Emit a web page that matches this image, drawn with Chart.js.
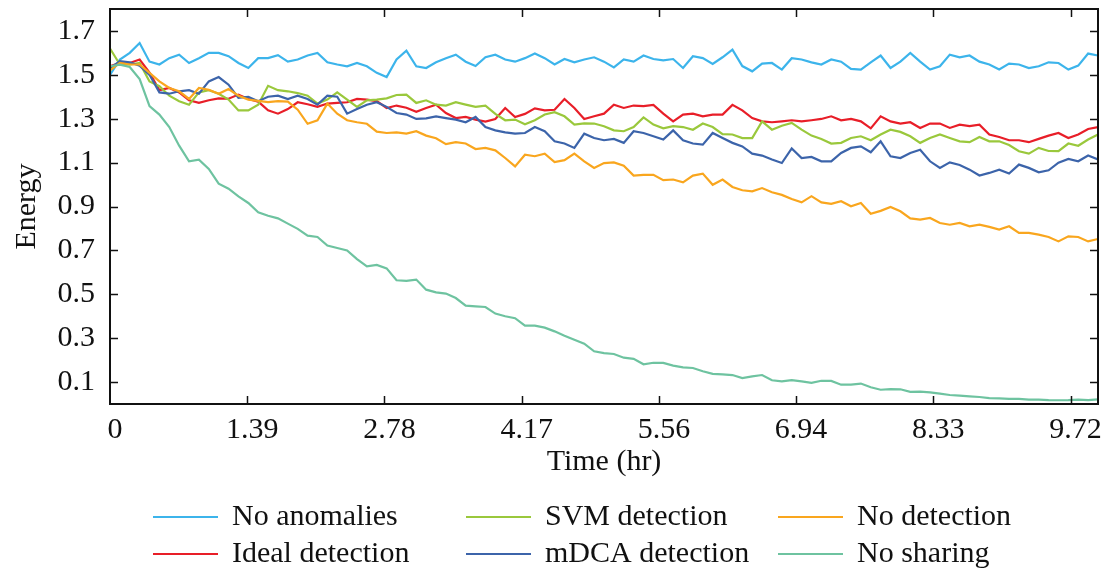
<!DOCTYPE html>
<html>
<head>
<meta charset="utf-8">
<script src="https://cdn.jsdelivr.net/npm/chart.js@4.4.1/dist/chart.umd.min.js"></script>
<style>
  html, body { margin: 0; padding: 0; background: #fff; }
  #wrap { position: relative; width: 1112px; height: 571px; }
</style>
</head>
<body>
<div id="wrap"><canvas id="energyChart" width="1112" height="571"></canvas></div>
<script>
// sample times (hr)
const hours = [
  0.0, 0.1, 0.2, 0.3, 0.4, 0.5, 0.6, 0.7, 0.8, 0.9,
  1.0, 1.1, 1.2, 1.3, 1.4, 1.5, 1.6, 1.7, 1.8, 1.9,
  2.0, 2.1, 2.2, 2.3, 2.4, 2.5, 2.6, 2.7, 2.8, 2.9,
  3.0, 3.1, 3.2, 3.3, 3.4, 3.5, 3.6, 3.7, 3.8, 3.9,
  4.0, 4.1, 4.2, 4.3, 4.4, 4.5, 4.6, 4.7, 4.8, 4.9,
  5.0, 5.1, 5.2, 5.3, 5.4, 5.5, 5.6, 5.7, 5.8, 5.9,
  6.0, 6.1, 6.2, 6.3, 6.4, 6.5, 6.6, 6.7, 6.8, 6.9,
  7.0, 7.1, 7.2, 7.3, 7.4, 7.5, 7.6, 7.7, 7.8, 7.9,
  8.0, 8.1, 8.2, 8.3, 8.4, 8.5, 8.6, 8.7, 8.8, 8.9,
  9.0, 9.1, 9.2, 9.3, 9.4, 9.5, 9.6, 9.7, 9.8, 9.9, 10.0
];

const noAnomalies = [
  1.50, 1.57, 1.60, 1.645, 1.56, 1.547, 1.576, 1.592, 1.554, 1.576,
  1.60, 1.60, 1.585, 1.554, 1.531, 1.576, 1.576, 1.59, 1.56, 1.57,
  1.588, 1.60, 1.557, 1.547, 1.539, 1.554, 1.539, 1.509, 1.49, 1.57,
  1.61, 1.539, 1.531, 1.557, 1.576, 1.592, 1.56, 1.54, 1.58, 1.592,
  1.57, 1.56, 1.576, 1.597, 1.576, 1.547, 1.572, 1.557, 1.57, 1.58,
  1.56, 1.534, 1.57, 1.56, 1.588, 1.572, 1.566, 1.572, 1.531, 1.585,
  1.576, 1.55, 1.58, 1.615, 1.54, 1.516, 1.551, 1.554, 1.524, 1.576,
  1.57, 1.557, 1.547, 1.57, 1.56, 1.527, 1.524, 1.557, 1.588, 1.531,
  1.56, 1.60, 1.56, 1.524, 1.539, 1.592, 1.58, 1.588, 1.56, 1.547,
  1.524, 1.551, 1.547, 1.531, 1.539, 1.557, 1.554, 1.524, 1.542, 1.597, 1.588
];

const idealDetection = [
  1.54, 1.554, 1.554, 1.57, 1.51, 1.43, 1.44, 1.42, 1.384, 1.372,
  1.384, 1.393, 1.391, 1.41, 1.39, 1.378, 1.338, 1.323, 1.344, 1.375,
  1.366, 1.354, 1.369, 1.372, 1.375, 1.39, 1.387, 1.38, 1.349, 1.36,
  1.35, 1.332, 1.349, 1.364, 1.326, 1.303, 1.308, 1.296, 1.287, 1.299,
  1.349, 1.308, 1.322, 1.347, 1.338, 1.341, 1.39, 1.349, 1.299, 1.311,
  1.323, 1.364, 1.349, 1.36, 1.357, 1.363, 1.323, 1.288, 1.319, 1.323,
  1.311, 1.319, 1.319, 1.363, 1.338, 1.303, 1.288, 1.284, 1.288, 1.293,
  1.288, 1.293, 1.299, 1.311, 1.293, 1.299, 1.288, 1.256, 1.311, 1.288,
  1.278, 1.284, 1.258, 1.278, 1.278, 1.258, 1.273, 1.266, 1.273, 1.228,
  1.217, 1.202, 1.202, 1.193, 1.208, 1.223, 1.235, 1.212, 1.228, 1.253, 1.262
];

const svmDetection = [
  1.62, 1.547, 1.547, 1.554, 1.47, 1.448, 1.405, 1.38, 1.364, 1.42,
  1.43, 1.414, 1.387, 1.338, 1.338, 1.364, 1.45, 1.43, 1.425, 1.417,
  1.405, 1.369, 1.387, 1.42, 1.387, 1.354, 1.384, 1.387, 1.393, 1.408,
  1.41, 1.372, 1.384, 1.364, 1.36, 1.375, 1.364, 1.354, 1.36, 1.322,
  1.293, 1.296, 1.275, 1.293, 1.319, 1.33, 1.311, 1.273, 1.279, 1.278,
  1.266, 1.247, 1.243, 1.262, 1.306, 1.273, 1.256, 1.266, 1.262, 1.25,
  1.278, 1.262, 1.23, 1.228, 1.212, 1.212, 1.288, 1.25, 1.268, 1.281,
  1.25, 1.223, 1.208, 1.187, 1.19, 1.212, 1.22, 1.202, 1.228, 1.25,
  1.24, 1.22, 1.19, 1.212, 1.228, 1.212, 1.197, 1.193, 1.217, 1.197,
  1.197, 1.18, 1.152, 1.141, 1.167, 1.153, 1.152, 1.187, 1.177, 1.205, 1.228
];

const mdcaDetection = [
  1.53, 1.562, 1.557, 1.542, 1.50, 1.42, 1.414, 1.425, 1.43, 1.414,
  1.47, 1.49, 1.455, 1.395, 1.40, 1.38, 1.40, 1.405, 1.39, 1.405,
  1.39, 1.364, 1.405, 1.40, 1.323, 1.344, 1.364, 1.375, 1.354, 1.326,
  1.319, 1.299, 1.302, 1.311, 1.303, 1.296, 1.284, 1.308, 1.262, 1.247,
  1.238, 1.232, 1.235, 1.262, 1.243, 1.197, 1.187, 1.167, 1.232, 1.212,
  1.202, 1.208, 1.19, 1.243, 1.235, 1.22, 1.205, 1.247, 1.202, 1.187,
  1.182, 1.235, 1.212, 1.19, 1.174, 1.141, 1.132, 1.114, 1.098, 1.165,
  1.121, 1.126, 1.106, 1.106, 1.144, 1.167, 1.174, 1.147, 1.197, 1.129,
  1.121, 1.144, 1.159, 1.106, 1.076, 1.101, 1.089, 1.068, 1.041, 1.053,
  1.068, 1.05, 1.091, 1.076, 1.056, 1.065, 1.10, 1.117, 1.106, 1.132, 1.114
];

const noDetection = [
  1.52, 1.554, 1.547, 1.547, 1.509, 1.47, 1.44, 1.425, 1.39, 1.44,
  1.432, 1.414, 1.435, 1.405, 1.387, 1.381, 1.376, 1.38, 1.378, 1.341,
  1.277, 1.293, 1.369, 1.323, 1.293, 1.284, 1.277, 1.241, 1.235, 1.238,
  1.232, 1.243, 1.223, 1.211, 1.184, 1.193, 1.187, 1.162, 1.167, 1.156,
  1.121, 1.083, 1.136, 1.129, 1.141, 1.102, 1.111, 1.141, 1.106, 1.076,
  1.098, 1.101, 1.086, 1.041, 1.044, 1.044, 1.02, 1.023, 1.01, 1.041,
  1.05, 0.999, 1.023, 0.989, 0.974, 0.969, 0.984, 0.965, 0.953, 0.934,
  0.919, 0.947, 0.919, 0.912, 0.924, 0.901, 0.916, 0.867, 0.88, 0.898,
  0.878, 0.846, 0.84, 0.848, 0.825, 0.817, 0.825, 0.81, 0.817, 0.807,
  0.795, 0.81, 0.78, 0.78, 0.772, 0.761, 0.741, 0.764, 0.761, 0.741, 0.752
];

const noSharing = [
  1.539, 1.546, 1.536, 1.481, 1.357, 1.319, 1.262, 1.177, 1.106, 1.113,
  1.071, 1.004, 0.981, 0.946, 0.916, 0.874, 0.858, 0.846, 0.822, 0.798,
  0.767, 0.761, 0.722, 0.711, 0.70, 0.66, 0.627, 0.634, 0.618, 0.564,
  0.561, 0.567, 0.521, 0.509, 0.503, 0.483, 0.448, 0.445, 0.442, 0.412,
  0.40, 0.391, 0.357, 0.357, 0.348, 0.331, 0.311, 0.293, 0.275, 0.24,
  0.232, 0.228, 0.211, 0.206, 0.181, 0.188, 0.187, 0.175, 0.167, 0.164,
  0.149, 0.137, 0.135, 0.132, 0.118, 0.126, 0.132, 0.108, 0.103, 0.109,
  0.103, 0.096, 0.106, 0.105, 0.088, 0.088, 0.093, 0.076, 0.065, 0.068,
  0.067, 0.055, 0.056, 0.053, 0.047, 0.041, 0.038, 0.035, 0.032, 0.027,
  0.026, 0.023, 0.023, 0.02, 0.02, 0.018, 0.017, 0.018, 0.02, 0.018, 0.021
];

const seriesNames = ["No anomalies", "Ideal detection", "SVM detection", "mDCA detection", "No detection", "No sharing"];
const seriesValues = [noAnomalies, idealDetection, svmDetection, mdcaDetection, noDetection, noSharing];
const seriesColors = ["#3cb4eb", "#e81e28", "#9ac83c", "#3c64aa", "#f9a61e", "#6ec3a0"];

// ticks every 5000 s, shown in hours
const xTickValues = [0, 1.3889, 2.7778, 4.1667, 5.5556, 6.9444, 8.3333, 9.7222];
const xTickLabels = ["0", "1.39", "2.78", "4.17", "5.56", "6.94", "8.33", "9.72"];
const yTickValues = [0.1, 0.3, 0.5, 0.7, 0.9, 1.1, 1.3, 1.5, 1.7];

const FONT = "'Liberation Serif', 'Times New Roman', serif";
Chart.defaults.font.family = FONT;
Chart.defaults.font.size = 30;
Chart.defaults.color = "#111";

// frame with inward ticks on all four sides, axis titles, legend in 2 rows x 3 cols
const framePlugin = {
  id: "frame",
  afterDraw(chart) {
    const { ctx, chartArea: a, scales } = chart;
    ctx.save();
    ctx.strokeStyle = "#111";
    ctx.lineWidth = 2;
    ctx.strokeRect(a.left, a.top, a.right - a.left, a.bottom - a.top);
    ctx.lineWidth = 1.5;
    ctx.beginPath();
    xTickValues.forEach(v => {
      const px = Math.round(scales.x.getPixelForValue(v)) + 0.5;
      if (v === 0) return;
      ctx.moveTo(px, a.bottom); ctx.lineTo(px, a.bottom - 8);
      ctx.moveTo(px, a.top); ctx.lineTo(px, a.top + 8);
    });
    yTickValues.forEach(v => {
      const py = Math.round(scales.y.getPixelForValue(v)) + 0.5;
      ctx.moveTo(a.left, py); ctx.lineTo(a.left + 8, py);
      ctx.moveTo(a.right, py); ctx.lineTo(a.right - 8, py);
    });
    ctx.stroke();

    ctx.fillStyle = "#111";
    ctx.font = "30px " + FONT;
    ctx.textAlign = "center";
    ctx.textBaseline = "middle";
    ctx.fillText("Time (hr)", (a.left + a.right) / 2, 462);
    ctx.save();
    ctx.translate(27, (a.top + a.bottom) / 2);
    ctx.rotate(-Math.PI / 2);
    ctx.fillText("Energy", 0, 0);
    ctx.restore();

    const colX = [153, 466, 778];
    const rowY = [517, 554];
    ctx.textAlign = "left";
    chart.data.datasets.forEach((ds, i) => {
      const x = colX[Math.floor(i / 2)];
      const y = rowY[i % 2];
      ctx.strokeStyle = ds.borderColor;
      ctx.lineWidth = 2;
      ctx.beginPath();
      ctx.moveTo(x, y); ctx.lineTo(x + 65, y);
      ctx.stroke();
      ctx.fillText(ds.label, x + 79, y);
    });
    ctx.restore();
  }
};

new Chart(document.getElementById("energyChart"), {
  type: "line",
  data: {
    datasets: seriesNames.map((name, i) => ({
      label: name,
      data: hours.map((h, j) => ({ x: h, y: seriesValues[i][j] })),
      borderColor: seriesColors[i],
      borderWidth: 2.2,
      pointRadius: 0,
      tension: 0,
      fill: false,
      order: seriesNames.length - i
    }))
  },
  options: {
    responsive: false,
    devicePixelRatio: 1,
    animation: false,
    layout: { padding: { left: 0, top: 9, right: 14, bottom: 0 } },
    plugins: { legend: { display: false }, tooltip: { enabled: false } },
    scales: {
      x: {
        type: "linear",
        min: 0,
        max: 10,
        afterBuildTicks: s => { s.ticks = xTickValues.map(v => ({ value: v })); },
        afterFit: s => { s.height = 167; s.paddingLeft = 0; s.paddingRight = 0; },
        grid: { display: false, drawTicks: false },
        border: { display: false },
        ticks: {
          autoSkip: false,
          maxRotation: 0,
          padding: 8,
          labelOffset: 5,
          callback: (v, i) => xTickLabels[i]
        }
      },
      y: {
        type: "linear",
        min: 0,
        max: 1.8,
        afterBuildTicks: s => { s.ticks = yTickValues.map(v => ({ value: v })); },
        afterFit: s => { s.width = 110; s.paddingTop = 0; s.paddingBottom = 0; },
        grid: { display: false, drawTicks: false },
        border: { display: false },
        ticks: {
          padding: 15,
          callback: v => v.toFixed(1)
        }
      }
    }
  },
  plugins: [framePlugin]
});
</script>
</body>
</html>
